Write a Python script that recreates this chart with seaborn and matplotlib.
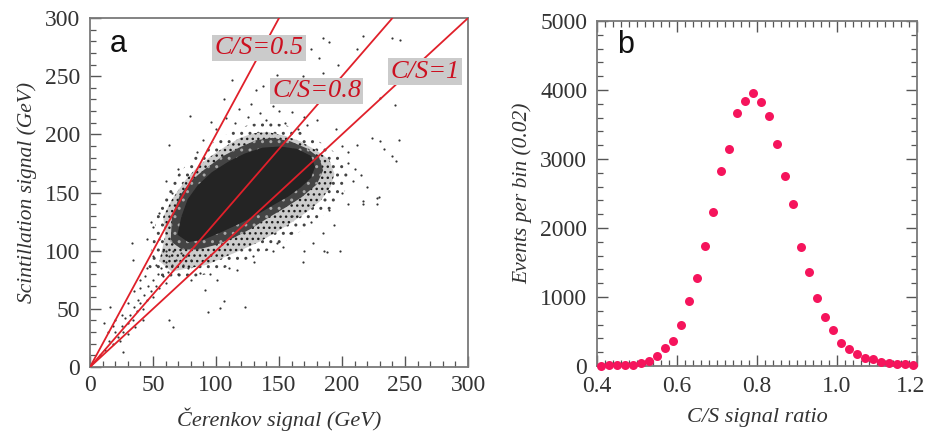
import matplotlib
matplotlib.use("Agg")
import matplotlib.pyplot as plt
import matplotlib.transforms as mtransforms
import seaborn as sns
import pandas as pd
from matplotlib.ticker import MultipleLocator, FormatStrFormatter

# ---------------- data ----------------
# panel a: C/S reference lines
cs_ratios = [0.5, 0.8, 1.0]
cs_labels = ["C/S=0.5", "C/S=0.8", "C/S=1"]
cs_label_x = [134, 180, 266]
cs_label_y = [274, 237, 254]

# dense core of the event cloud (outline, GeV)
core_c = [70, 73, 78, 86, 97, 110, 123, 137, 151, 164, 175, 178, 175, 167, 157, 144, 130, 116, 103, 90, 78]
core_s = [114, 129, 144, 156, 167, 176, 183, 188, 189, 187, 181, 172, 163, 155, 147, 139, 130, 122.5, 116, 110, 108]

# inner halo (nearly black, light speckles)
inner_c = [64, 65, 71, 80, 91, 105, 119, 132, 145, 159, 172, 182, 185, 180, 168, 155, 141, 128, 114, 100, 86, 73]
inner_s = [108, 129, 147, 160, 170, 181, 189, 195, 197, 194, 188, 180, 169, 157, 146, 137, 128, 119, 111, 105, 101, 101]

# outer halo (dense dots)
outer_c = [55, 60, 58, 65, 76, 86, 97, 108, 119, 130, 141, 154, 167, 180, 190, 194, 191, 183, 173, 161, 148, 135, 121, 108, 93, 79, 65]
outer_s = [91, 114, 129, 144, 161, 173, 182, 190, 197, 201, 202, 199, 194, 186, 178, 166, 155, 143, 134, 125, 116, 108, 101, 95, 88, 85, 82]

# fringe (sparse dots)
fringe_c = [46, 50, 53, 60, 70, 83, 98, 113, 128, 143, 158, 173, 188, 199, 205, 203, 196, 186, 173, 159, 143, 126, 109, 93, 78, 62]
fringe_s = [86, 110, 130, 150, 166, 181, 193, 203, 209, 211, 207, 199, 190, 180, 166, 153, 141, 131, 121, 111, 101, 93, 86, 80, 76, 74]

# sparse individual events (Cerenkov, Scintillation)
sparse_c = [185, 190, 212, 217, 246, 240, 175, 182, 197, 169, 113, 132, 137, 148, 230, 242, 185, 106, 79, 63,
            230, 233, 240, 224, 212, 245, 243, 229, 228, 217, 209, 198, 186, 169, 177, 153, 188, 194, 228, 217,
            123, 106, 103, 94, 66, 91, 26, 11, 16, 34, 33, 48, 55, 63, 87, 101, 117, 129, 148, 159,
            125, 140, 155, 165, 100, 90, 200, 205, 210, 200, 190, 175, 160, 145, 130, 110, 95, 80, 60, 55,
            50, 45, 65, 60, 70, 85, 115, 150, 170, 195, 205, 215, 220, 205, 185, 170,
            8, 12, 15, 18, 20, 22, 25, 26, 28, 30, 32, 34, 35, 37, 38, 40, 42, 43, 45, 46,
            48, 50, 50, 52, 54, 55, 56, 58, 60, 60, 62, 63, 65, 66, 68, 70, 72, 74, 76, 78,
            80, 20, 25, 30, 35, 40, 45, 50, 24, 30, 36, 42, 14, 18, 40, 44, 52, 58,
            118, 128, 135, 145, 152, 160, 108, 96, 172, 180]
sparse_s = [283, 279, 273, 285, 281, 283, 273, 266, 260, 250, 247, 238, 242, 251, 231, 225, 253, 230, 216, 191,
            194, 187, 181, 197, 191, 195, 177, 146, 140, 140, 160, 100, 100, 90, 107, 103, 99, 122, 145, 143,
            52, 57, 51, 47, 34, 66, 13, 38, 52, 92, 107, 125, 132, 40, 81, 75, 83, 95, 107, 115,
            215, 212, 210, 205, 205, 195, 190, 175, 170, 150, 135, 125, 130, 100, 90, 85, 80, 75, 100, 110,
            120, 110, 150, 160, 170, 185, 210, 220, 215, 205, 185, 165, 155, 140, 115, 100,
            10, 15, 22, 20, 30, 26, 35, 30, 42, 38, 45, 40, 52, 48, 58, 55, 50, 62, 58, 70,
            65, 60, 75, 70, 80, 68, 85, 78, 90, 72, 82, 95, 88, 100, 92, 80, 98, 88, 95, 85,
            92, 40, 45, 55, 65, 75, 85, 95, 22, 28, 34, 40, 30, 35, 68, 78, 88, 100,
            222, 226, 218, 224, 228, 219, 214, 211, 208, 212]

# panel b: C/S ratio distribution, bins of 0.02
ratio_bins = [0.41, 0.43, 0.45, 0.47, 0.49, 0.51, 0.53, 0.55, 0.57, 0.59,
              0.61, 0.63, 0.65, 0.67, 0.69, 0.71, 0.73, 0.75, 0.77, 0.79,
              0.81, 0.83, 0.85, 0.87, 0.89, 0.91, 0.93, 0.95, 0.97, 0.99,
              1.01, 1.03, 1.05, 1.07, 1.09, 1.11, 1.13, 1.15, 1.17, 1.19]
events = [0, 10, 10, 10, 20, 40, 70, 145, 265, 365,
          590, 940, 1270, 1740, 2230, 2820, 3150, 3660, 3840, 3960,
          3820, 3630, 3210, 2760, 2350, 1725, 1355, 990, 715, 520,
          340, 240, 175, 110, 105, 60, 45, 35, 25, 20]

# ---------------- style ----------------
sns.set_style("white")
plt.rcParams["font.family"] = ["Liberation Serif", "DejaVu Serif"]
plt.rcParams["hatch.linewidth"] = 1.0

TXT = "#333333"
SPINE = "#7a7a7a"
RED = "#e0202a"
PINK = "#f5145c"

fig = plt.figure(figsize=(9.29, 4.34), dpi=100)
axa = fig.add_axes([0.0969, 0.1544, 0.4069, 0.804])
axb = fig.add_axes([0.6426, 0.1567, 0.3445, 0.795])

# ---------------- panel a ----------------
axa.fill(fringe_c, fringe_s, facecolor="none", edgecolor="#444444", hatch="..", linewidth=0, zorder=1)
axa.fill(outer_c, outer_s, facecolor="#cccccc", edgecolor="#1e1e1e", hatch="...", linewidth=0, zorder=1.2)
axa.fill(inner_c, inner_s, facecolor="#444444", edgecolor="#a8a8a8", hatch="..", linewidth=0, zorder=1.5)
axa.fill(core_c, core_s, facecolor="#242424", edgecolor="#242424", linewidth=1.0, zorder=2)

sparse_df = pd.DataFrame({"C": sparse_c, "S": sparse_s})
sns.scatterplot(data=sparse_df, x="C", y="S", ax=axa, s=2.5, color="#333333",
                linewidth=0, zorder=2)

for r in cs_ratios:
    line_df = pd.DataFrame({"C": [0, r * 300], "S": [0, 300]})
    sns.lineplot(data=line_df, x="C", y="S", ax=axa, color=RED, lw=1.3, zorder=3,
                 sort=False, estimator=None)

for lab, lx, ly in zip(cs_labels, cs_label_x, cs_label_y):
    axa.text(lx, ly, lab, color="#cc1020", fontsize=19, style="italic",
             ha="center", va="center", zorder=4,
             bbox=dict(boxstyle="square,pad=0.08", facecolor="#cbcbcb", edgecolor="none"))

axa.set_xlim(0, 300)
axa.set_ylim(0, 300)
axa.xaxis.set_major_locator(MultipleLocator(50))
axa.yaxis.set_major_locator(MultipleLocator(50))
axa.xaxis.set_minor_locator(MultipleLocator(10))
axa.yaxis.set_minor_locator(MultipleLocator(10))
axa.tick_params(which="both", direction="in", colors="#555555", labelcolor=TXT,
                labelsize=17, top=False, right=False, bottom=True, left=True)
axa.tick_params(which="major", length=8, width=1.0)
axa.tick_params(axis="x", which="major", pad=6)
axa.tick_params(axis="y", which="major", pad=7)
axa.tick_params(which="minor", length=4, width=0.9)
axa.set_xlabel("Čerenkov signal (GeV)", fontsize=16, style="italic", color=TXT, labelpad=8)
axa.set_ylabel("Scintillation signal (GeV)", fontsize=15.5, style="italic", color=TXT, labelpad=6)
axa.text(0.053, 0.925, "a", transform=axa.transAxes, fontsize=22,
         family="Liberation Sans", color="#111111", ha="left", va="center")

# ---------------- panel b ----------------
dist_df = pd.DataFrame({"ratio": ratio_bins, "events": events})
sns.scatterplot(data=dist_df, x="ratio", y="events", ax=axb, s=42, color=PINK,
                linewidth=0, zorder=3, clip_on=False)
axb.set_xlim(0.4, 1.2)
axb.set_ylim(0, 5000)
axb.xaxis.set_major_locator(MultipleLocator(0.2))
axb.xaxis.set_minor_locator(MultipleLocator(0.02))
axb.yaxis.set_major_locator(MultipleLocator(1000))
axb.yaxis.set_minor_locator(MultipleLocator(200))
axb.xaxis.set_major_formatter(FormatStrFormatter("%.1f"))
axb.tick_params(which="both", direction="in", colors="#555555", labelcolor=TXT,
                labelsize=17, top=True, right=True, bottom=True, left=True)
axb.tick_params(which="major", length=8, width=1.0)
axb.tick_params(axis="x", which="major", pad=7)
axb.tick_params(axis="y", which="major", pad=7)
axb.tick_params(which="minor", length=4, width=0.9)
axb.set_xlabel("C/S signal ratio", fontsize=16, style="italic", color=TXT, labelpad=8)
axb.set_ylabel("Events per bin (0.02)", fontsize=15.5, style="italic", color=TXT, labelpad=6)
axb.text(0.0625, 0.93, "b", transform=axb.transAxes, fontsize=22,
         family="Liberation Sans", color="#111111", ha="left", va="center")

for ax in (axa, axb):
    for sp in ax.spines.values():
        sp.set_color(SPINE)
        sp.set_linewidth(1.3)
        sp.set_visible(True)

# keep the last x tick label of panel b inside the figure
fig.canvas.draw()
shift = mtransforms.ScaledTranslation(-6 / 100, 0, fig.dpi_scale_trans)
for tl in axb.get_xticklabels():
    if tl.get_text() == "1.2":
        tl.set_transform(tl.get_transform() + shift)

fig.savefig("out.png", dpi=100)
